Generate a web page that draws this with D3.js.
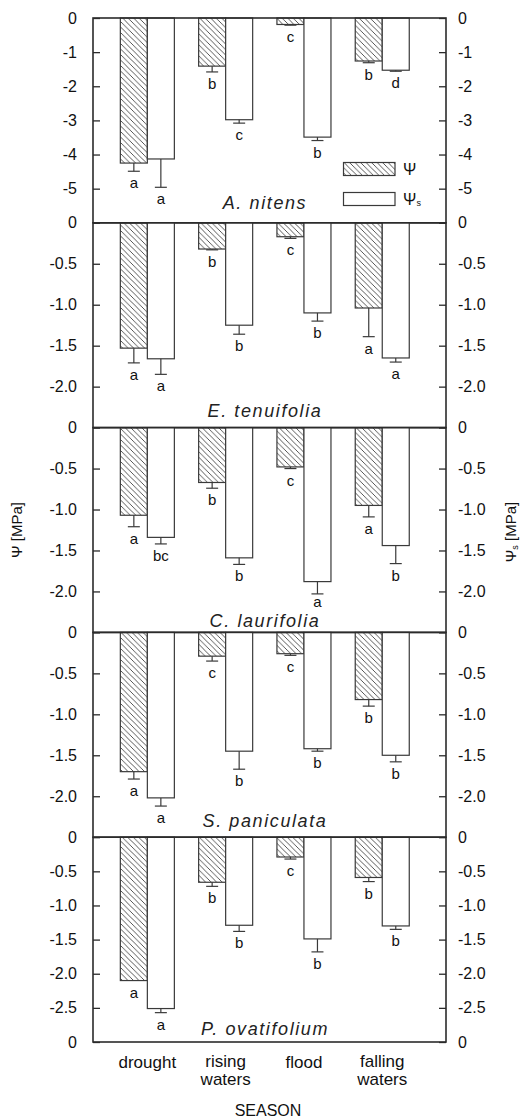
<!DOCTYPE html>
<html>
<head>
<meta charset="utf-8">
<script src="https://cdn.jsdelivr.net/npm/d3@7"></script>
<style>
  body { margin: 0; background: #fff; }
  svg { display: block; font-family: "Liberation Sans", Arial, sans-serif; }
</style>
</head>
<body>
<div id="grafica"></div>
<script>
// Datos (MPa)

const categories = ["drought", "rising waters", "flood", "falling waters"]
const species = ["A. nitens", "E. tenuifolia", "C. laurifolia", "S. paniculata", "P. ovatifolium"]

// Psi (barras rayadas)
const psi = [
  [-4.25, -1.41, -0.19, -1.26],
  [-1.53, -0.32, -0.17, -1.04],
  [-1.07, -0.67, -0.48, -0.95],
  [-1.70, -0.29, -0.26, -0.82],
  [-2.10, -0.66, -0.29, -0.59]
]
const psiErr = [
  [0.24, 0.17, 0.02, 0.05],
  [0.18, 0.01, 0.02, 0.35],
  [0.14, 0.07, 0.02, 0.14],
  [0.09, 0.06, 0.02, 0.08],
  [0, 0.06, 0.03, 0.06]
]
const psiLetters = [
  ["a", "b", "c", "b"],
  ["a", "b", "c", "a"],
  ["a", "b", "c", "a"],
  ["a", "c", "c", "b"],
  ["a", "b", "c", "b"]
]

// Psi s (barras blancas)
const psiS = [
  [-4.13, -2.98, -3.49, -1.53],
  [-1.66, -1.25, -1.10, -1.65],
  [-1.34, -1.59, -1.88, -1.44],
  [-2.02, -1.45, -1.42, -1.50],
  [-2.51, -1.29, -1.49, -1.30]
]
const psiSErr = [
  [0.83, 0.10, 0.10, 0.03],
  [0.19, 0.11, 0.10, 0.05],
  [0.08, 0.08, 0.15, 0.22],
  [0.10, 0.22, 0.03, 0.08],
  [0.06, 0.09, 0.19, 0.05]
]
const psiSLetters = [
  ["a", "c", "b", "d"],
  ["a", "b", "b", "a"],
  ["bc", "b", "a", "b"],
  ["a", "b", "b", "b"],
  ["a", "b", "b", "b"]
]

// Escalas de cada panel
const yMin = [-6, -2.5, -2.5, -2.5, -3]
const yTicks = [
  [0, -1, -2, -3, -4, -5],
  [0, -0.5, -1, -1.5, -2],
  [0, -0.5, -1, -1.5, -2],
  [0, -0.5, -1, -1.5, -2],
  [0, -0.5, -1, -1.5, -2, -2.5]
]

let width = 525
let height = 1120
let left = 93
let right = 446
let top0 = 18
let panelH = 204.8
let ink = "#2b2b2b"
// distancia del nombre de la especie al borde inferior de cada panel
let nameGap = [14, 10.5, 5, 10, 7]

const svg = d3.select("#grafica")
  .append("svg")
  .attr("width", width)
  .attr("height", height)

// patron rayado
svg.append("defs").append("pattern")
  .attr("id", "hatch")
  .attr("patternUnits", "userSpaceOnUse")
  .attr("width", 5.5)
  .attr("height", 5.5)
  .append("path")
  .attr("d", "M-1,-1 L6.5,6.5 M-1,4.5 L1,6.5 M4.5,-1 L6.5,1")
  .attr("stroke", "#444")
  .attr("stroke-width", 0.9)

const xScale = d3.scaleBand()
  .domain(categories)
  .range([108.2, 421.4])
  .paddingInner(0.31)
  .paddingOuter(0.155)

const xSub = d3.scaleBand()
  .domain(["psi", "psiS"])
  .range([0, xScale.bandwidth()])

function fmt(d, i) {
  if (d === 0) return "0"
  return i === 0 ? d3.format("d")(d).replace("−", "-") : d3.format(".1f")(d).replace("−", "-")
}

species.forEach((sp, p) => {
  let y0 = top0 + p * panelH
  let nameY = y0 + panelH - nameGap[p]
  const yScale = d3.scaleLinear()
    .domain([0, yMin[p]])
    .range([y0, y0 + panelH])

  const g = svg.append("g")

  // barras
  categories.forEach((c, k) => {
    let series = [
      { key: "psi", v: psi[p][k], e: psiErr[p][k], l: psiLetters[p][k] },
      { key: "psiS", v: psiS[p][k], e: psiSErr[p][k], l: psiSLetters[p][k] }
    ]
    series.forEach(s => {
      let x = xScale(c) + xSub(s.key)
      let w = xSub.bandwidth()
      let cx = x + w / 2
      g.append("rect")
        .attr("x", x)
        .attr("y", yScale(0))
        .attr("width", w)
        .attr("height", yScale(s.v) - yScale(0))
        .attr("fill", s.key === "psi" ? "url(#hatch)" : "#fff")
        .attr("stroke", "#3a3a3a")
        .attr("stroke-width", 1.2)
      let tip = yScale(s.v - s.e)
      if (s.e > 0) {
        g.append("line")
          .attr("x1", cx).attr("x2", cx)
          .attr("y1", yScale(s.v)).attr("y2", tip)
          .attr("stroke", "#3a3a3a").attr("stroke-width", 1.2)
        g.append("line")
          .attr("x1", cx - 6).attr("x2", cx + 6)
          .attr("y1", tip).attr("y2", tip)
          .attr("stroke", "#3a3a3a").attr("stroke-width", 1.2)
      }
      // la letra no debe pisar el nombre de la especie (solo si queda justo encima)
      let ly = tip + 17
      let lim = nameY - 20
      if (ly > lim && ly - lim < 5) ly = lim
      g.append("text")
        .attr("x", cx)
        .attr("y", ly)
        .attr("text-anchor", "middle")
        .attr("font-size", 15)
        .attr("fill", "#111")
        .text(s.l)
    })
  })

  // ejes
  let ticksL = yTicks[p].slice()
  if (p === species.length - 1) ticksL.push(yMin[p])
  const labelFmt = d => (d === yMin[p] ? "0" : fmt(d, p))

  const yAxisL = d3.axisLeft(yScale)
    .tickValues(ticksL)
    .tickSizeInner(-7)
    .tickSizeOuter(0)
    .tickPadding(16)
    .tickFormat(labelFmt)
  const yAxisR = d3.axisRight(yScale)
    .tickValues(ticksL)
    .tickSizeInner(-7)
    .tickSizeOuter(0)
    .tickPadding(12)
    .tickFormat(labelFmt)

  g.append("g")
    .attr("transform", "translate(" + left + ",0)")
    .call(yAxisL)
  g.append("g")
    .attr("transform", "translate(" + right + ",0)")
    .call(yAxisR)

  g.selectAll(".tick text").attr("font-size", 16).attr("fill", "#111").attr("font-family", "Liberation Sans, Arial")
  g.selectAll(".tick line").attr("stroke", ink).attr("stroke-width", 1.3)
  g.selectAll(".domain").remove()

  // marco
  g.append("rect")
    .attr("x", left)
    .attr("y", y0)
    .attr("width", right - left)
    .attr("height", panelH)
    .attr("fill", "none")
    .attr("stroke", ink)
    .attr("stroke-width", 1.6)

  g.append("text")
    .attr("x", 265)
    .attr("y", nameY)
    .attr("text-anchor", "middle")
    .attr("font-size", 18)
    .attr("font-style", "italic")
    .attr("letter-spacing", 1.6)
    .attr("fill", "#222")
    .text(sp)
})

// leyenda
const legend = svg.append("g")
legend.append("rect")
  .attr("x", 343.5).attr("y", 162.5).attr("width", 51.5).attr("height", 13)
  .attr("fill", "url(#hatch)").attr("stroke", "#3a3a3a").attr("stroke-width", 1.2)
legend.append("rect")
  .attr("x", 343.5).attr("y", 192.5).attr("width", 51.5).attr("height", 13)
  .attr("fill", "#fff").attr("stroke", "#3a3a3a").attr("stroke-width", 1.2)
legend.append("text")
  .attr("x", 403).attr("y", 175).attr("font-size", 16).attr("fill", "#111")
  .text("Ψ")
const ls = legend.append("text")
  .attr("x", 403).attr("y", 205).attr("font-size", 16).attr("fill", "#111")
ls.append("tspan").text("Ψ")
ls.append("tspan").attr("font-size", 9).attr("dy", 1).text("s")

// categorias eje x
categories.forEach(c => {
  let words = c.split(" ")
  let cx = xScale(c) + xScale.bandwidth() / 2
  const t = svg.append("text")
    .attr("text-anchor", "middle")
    .attr("font-size", 17)
    .attr("fill", "#111")
  if (words.length === 1) {
    t.append("tspan").attr("x", cx).attr("y", 1068).text(words[0])
  } else {
    t.append("tspan").attr("x", cx).attr("y", 1067).text(words[0])
    t.append("tspan").attr("x", cx).attr("y", 1085).text(words[1])
  }
})

svg.append("text")
  .attr("x", 268)
  .attr("y", 1116)
  .attr("text-anchor", "middle")
  .attr("font-size", 16)
  .attr("fill", "#111")
  .text("SEASON")

// titulos de ejes y
svg.append("text")
  .attr("transform", "translate(22,530) rotate(-90)")
  .attr("text-anchor", "middle")
  .attr("font-size", 15)
  .attr("fill", "#111")
  .text("Ψ [MPa]")

const rt = svg.append("text")
  .attr("transform", "translate(516,532) rotate(-90)")
  .attr("text-anchor", "middle")
  .attr("font-size", 15)
  .attr("fill", "#111")
rt.append("tspan").text("Ψ")
rt.append("tspan").attr("font-size", 9).attr("dy", 2).text("s")
rt.append("tspan").attr("dy", -2).text(" [MPa]")
</script>
</body>
</html>
